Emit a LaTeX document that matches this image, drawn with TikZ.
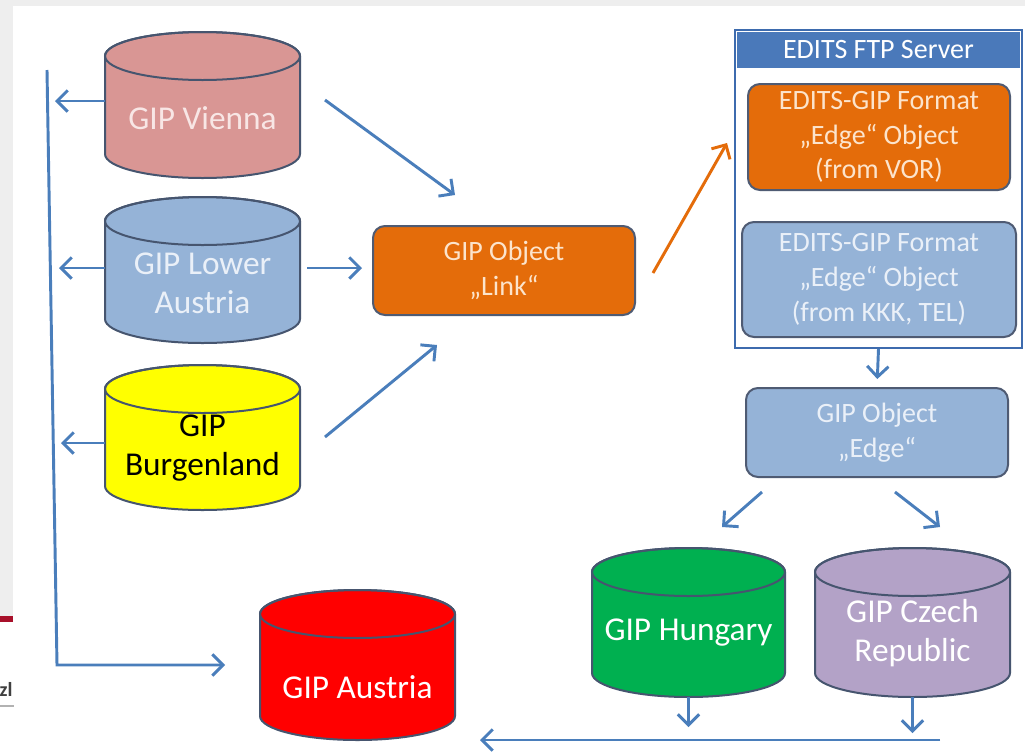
\documentclass[tikz,border=0pt]{standalone}
\usepackage{fontspec}
\setmainfont{Carlito}
\usetikzlibrary{arrows.meta}
\definecolor{arrblue}{HTML}{4A7EBB}
\definecolor{cylborder}{HTML}{46556F}
\definecolor{boxborder}{HTML}{4F5B73}
\definecolor{cvienna}{HTML}{D99694}
\definecolor{clower}{HTML}{95B3D7}
\definecolor{cyellow}{HTML}{FFFF00}
\definecolor{cred}{HTML}{FF0000}
\definecolor{cgreen}{HTML}{00B050}
\definecolor{clav}{HTML}{B3A2C7}
\definecolor{corange}{HTML}{E46C0A}
\definecolor{ftpblue}{HTML}{3D6BAE}
\definecolor{titleblue}{HTML}{4A79BA}
\definecolor{txtorange}{HTML}{FCE4CC}
\definecolor{txtblue}{HTML}{EAF0F8}
\definecolor{txtpink}{HTML}{F8E6E5}
\definecolor{slidegray}{HTML}{EEEEEE}
\definecolor{slidered}{HTML}{A8102A}
\newcommand\mybf{\fontsize{21}{26}\selectfont}
\newcommand\mycf{\fontsize{25}{29.5}\selectfont}
\tikzset{
  arr/.style={draw=arrblue, line width=2.2pt, -{Straight Barb[length=8pt,width=16pt,line width=2.2pt]}},
  cylline/.style={draw=cylborder, line width=1.5pt},
  box/.style={rectangle, rounded corners=9pt, draw=boxborder, line width=1.5pt, align=center, font=\mybf, inner sep=0pt},
  cyltext/.style={align=center, font=\mycf, inner sep=0pt},
}
\newcommand\mycyl[9]{%
  \pgfmathsetmacro\cylcx{(#2+#3)/2}%
  \pgfmathsetmacro\cylrx{0.75*(#3-#2)/2}%
  \pgfmathsetmacro\cyltc{#4+24}%
  \pgfmathsetmacro\cylbc{#5-24}%
  \pgfmathsetmacro\cylcy{(#4+#5)/2}%
  \pgfmathsetmacro\cylw{0.75*(#3-#2)}%
  \pgfmathsetmacro\cylh{0.75*(#5-#4)}%
  \path[cylline, fill=#6] (#2,\cyltc) -- (#2,\cylbc) arc[start angle=180,end angle=360,x radius=\cylrx pt,y radius=18pt] -- (#3,\cyltc) arc[start angle=0,end angle=180,x radius=\cylrx pt,y radius=18pt] -- cycle;
  \draw[cylline] (\cylcx,\cyltc) ellipse[x radius=\cylrx pt, y radius=18pt];
  \node[minimum width=\cylw pt, minimum height=\cylh pt, inner sep=0pt] (#1) at (\cylcx,\cylcy) {};
  \node[cyltext, text=#7] (#1-t) at (\cylcx,#8) {#9};
}
\begin{document}
\begin{tikzpicture}[x=0.75pt, y=-0.75pt]
\useasboundingbox (0,0) rectangle (1025,751);
\fill[white] (0,0) rectangle (1025,751);
% slide artifacts
\fill[slidegray] (0,0) rectangle (1025,6);
\fill[slidegray] (0,0) rectangle (13,616);
\fill[slidered] (0,616) rectangle (13,622);
\begin{scope}
  \clip (0,600) rectangle (14,751);
  \node[font=\bfseries\fontsize{15}{15}\selectfont, text=black!75, inner sep=0pt] (zl) at (6,689) {zl};
  \draw[gray!60, line width=0.8pt] (0,706) -- (14,706);
\end{scope}

% cylinders
\mycyl{vienna}{105}{300}{32}{178}{cvienna}{txtpink}{118}{GIP Vienna}
\mycyl{lower}{105}{300}{197}{343}{clower}{txtblue}{283}{GIP Lower\\Austria}
\mycyl{burgen}{105}{300}{365}{510}{cyellow}{black}{448}{GIP\\Burgenland}
\mycyl{austria}{260}{455}{590}{740}{cred}{white}{687}{GIP Austria}
\mycyl{hungary}{592}{785}{548}{697}{cgreen}{white}{633}{GIP Hungary}
\mycyl{czech}{815}{1010}{548}{697}{clav}{white}{633}{GIP Czech\\Republic}

% link box
\node[box, fill=corange, text=txtorange, minimum width=196.5pt, minimum height=66.75pt] (link) at (504,270.5) {GIP Object\\„Link“};

% FTP server
\node[draw=ftpblue, line width=1.5pt, fill=white, minimum width=215.25pt, minimum height=238.5pt, inner sep=0pt] (ftp) at (878.5,189) {};
\node[fill=titleblue, text=white, font=\mybf, minimum width=212.25pt, minimum height=27pt, inner sep=0pt] (ftptitle) at (878.5,50) {EDITS FTP Server};
\node[box, fill=corange, text=txtorange, minimum width=196.5pt, minimum height=79.5pt] (vor) at (879,137) {EDITS-GIP Format\\„Edge“ Object\\(from VOR)};
\node[box, fill=clower, text=txtblue, minimum width=205.5pt, minimum height=86.25pt] (kkk) at (879,279.5) {EDITS-GIP Format\\„Edge“ Object\\(from KKK, TEL)};

% edge box
\node[box, fill=clower, text=txtblue, minimum width=196.5pt, minimum height=66.75pt] (edge) at (877,432.5) {GIP Object\\„Edge“};

% left collector line
\coordinate (ltop) at (47,70);
\coordinate (lbot) at (57,665);
\draw[arr, shorten >=26pt] (ltop) -- (lbot) -- (austria.west);
\coordinate (vl) at (55,101);
\coordinate (ll) at (59,268);
\coordinate (bl) at (61,443);
\draw[arr] (vl -| vienna.west) -- (vl);
\draw[arr] (ll -| lower.west) -- (ll);
\draw[arr] (bl -| burgen.west) -- (bl);

% arrows to link
\coordinate (v1) at (325,100); \coordinate (v2) at (455,195);
\coordinate (w1) at (307,268); \coordinate (w2) at (362,268);
\coordinate (b1) at (325,437); \coordinate (b2) at (437,345);
\draw[arr] (v1) -- (v2);
\draw[arr] (w1) -- (w2);
\draw[arr] (b1) -- (b2);

% link to VOR (orange)
\coordinate (o1) at (653,273); \coordinate (o2) at (727,143);
\draw[arr, draw=corange] (o1) -- (o2);

% FTP to edge
\draw[arr, shorten >=6pt] (ftp.south) -- (edge.north);

% edge to countries
\coordinate (e1) at (762,492); \coordinate (e2) at (722,527);
\coordinate (f1) at (895,492); \coordinate (f2) at (940,527);
\draw[arr] (e1) -- (e2);
\draw[arr] (f1) -- (f2);

% countries down
\coordinate (hd) at (688.5,727);
\coordinate (cd) at (912.5,733);
\draw[arr] (hungary.south) -- (hd);
\draw[arr] (czech.south) -- (cd);

% bottom return line
\coordinate (br) at (940,740);
\coordinate (bll) at (480,740);
\draw[arr] (br) -- (bll);
\end{tikzpicture}
\end{document}
